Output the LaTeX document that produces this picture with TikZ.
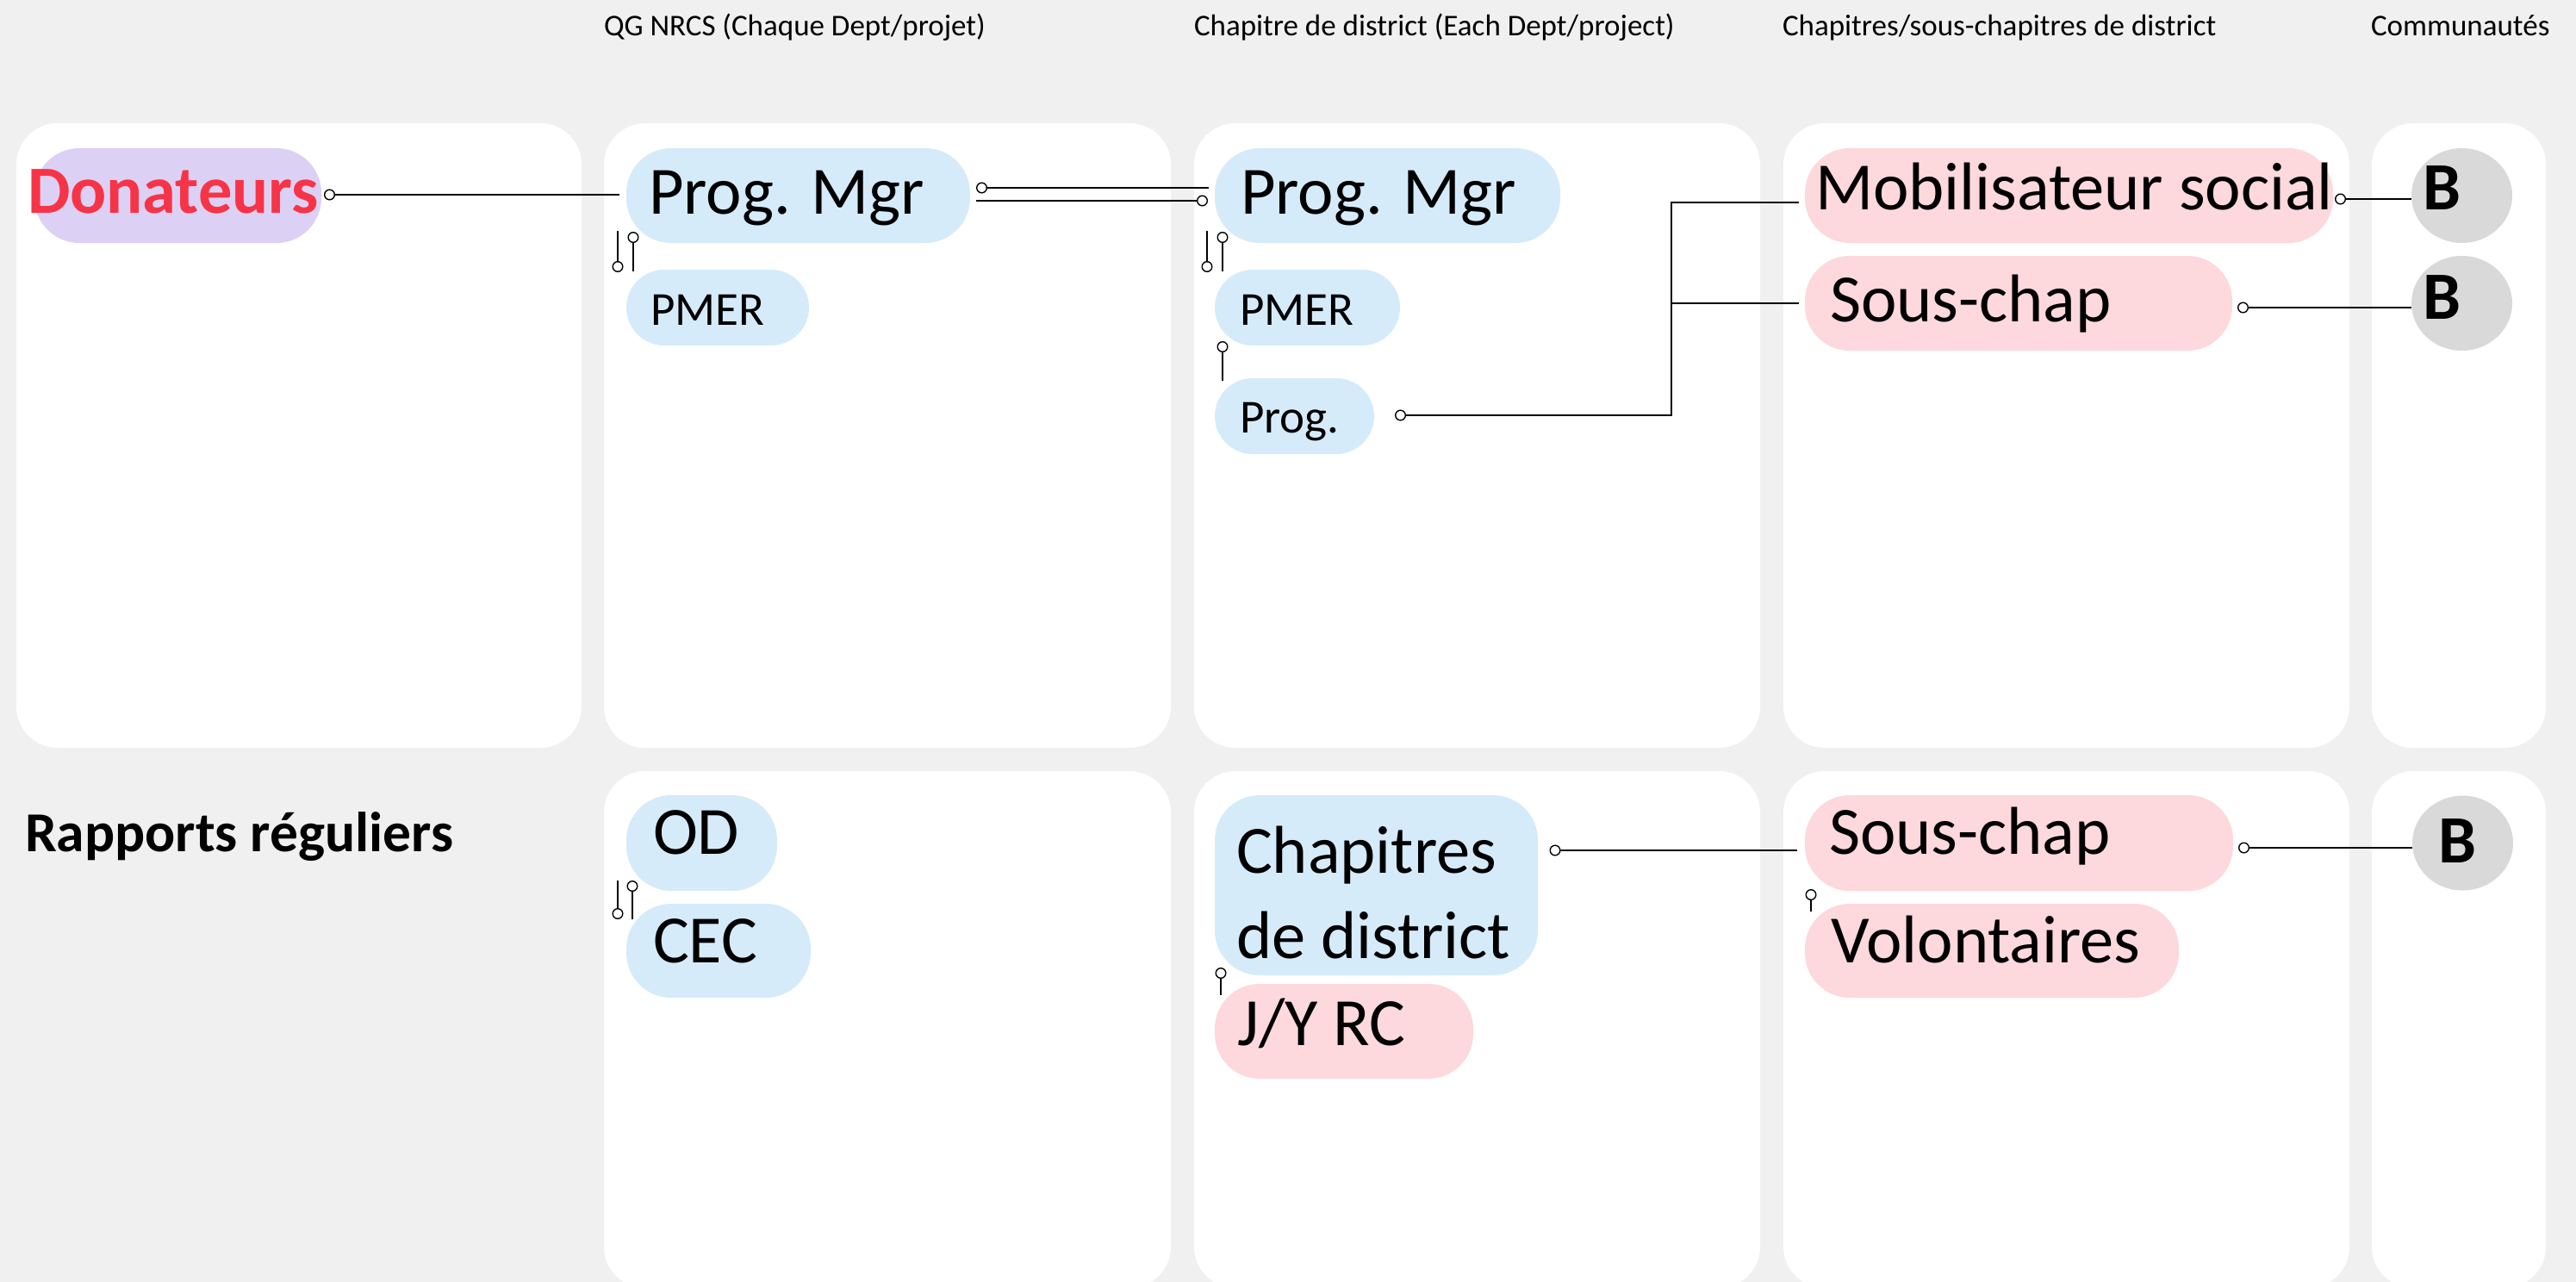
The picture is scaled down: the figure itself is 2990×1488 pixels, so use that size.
\documentclass[tikz,border=0pt]{standalone}
\usepackage{fontspec}
\setmainfont{Carlito}
\usetikzlibrary{shapes.geometric,arrows.meta}
\definecolor{bgc}{HTML}{F0F0F0}
\definecolor{pillblue}{HTML}{D5EBFA}
\definecolor{pillpink}{HTML}{FDD8DC}
\definecolor{pilllav}{HTML}{DDD0F5}
\definecolor{pillgray}{HTML}{D9D9D9}
\definecolor{donred}{HTML}{F73447}
\begin{document}
\begin{tikzpicture}[x=1pt,y=-1pt,
  panel/.style={fill=white, draw=none, rounded corners=48pt, inner sep=0pt, outer sep=0pt, anchor=north west},
  pill/.style={fill=#1, draw=none, rounded corners=52pt, inner sep=0pt, outer sep=0pt, anchor=north west},
  spill/.style={fill=#1, draw=none, rounded corners=44pt, inner sep=0pt, outer sep=0pt, anchor=north west},
  bnode/.style={ellipse, fill=pillgray, draw=none, inner sep=0pt, outer sep=0pt, minimum width=117pt, minimum height=110pt},
  txt/.style={inner sep=0pt, outer sep=0pt, anchor=base west},
  fbig/.style={font=\fontsize{78.5}{99}\selectfont},
  fbold/.style={font=\fontsize{78.5}{99}\selectfont\bfseries},
  fsmall/.style={font=\fontsize{55}{65}\selectfont},
  fhead/.style={font=\fontsize{35}{41}\selectfont},
  frap/.style={font=\fontsize{65.5}{77}\selectfont\bfseries},
  conn/.style={line width=2pt, draw=black},
  dotstart/.style={{Circle[open,length=13pt,width=13pt,line width=1.4pt,fill=white]}-},
  dotend/.style={-{Circle[open,length=13pt,width=13pt,line width=1.4pt,fill=white]}}
]
\useasboundingbox (0,0) rectangle (2990,1488);
\fill[bgc] (0,0) rectangle (2990,1488);
\clip (0,0) rectangle (2990,1488);

% headers
\node[txt, fhead] (h1) at (701,42) {QG NRCS (Chaque Dept/projet)};
\node[txt, fhead] (h2) at (1386,42) {Chapitre de district (Each Dept/project)};
\node[txt, fhead] (h3) at (2069,42) {Chapitres/sous-chapitres de district};
\node[txt, fhead] (h4) at (2752,42) {Communautés};

% panels row 1
\node[panel, minimum width=656pt, minimum height=725pt] (p11) at (19,143) {};
\node[panel, minimum width=658pt, minimum height=725pt] (p12) at (701,143) {};
\node[panel, minimum width=657pt, minimum height=725pt] (p13) at (1386,143) {};
\node[panel, minimum width=657pt, minimum height=725pt] (p14) at (2070,143) {};
\node[panel, minimum width=202pt, minimum height=725pt] (p15) at (2753,143) {};
% panels row 2
\node[panel, minimum width=658pt, minimum height=600pt] (p22) at (701,895) {};
\node[panel, minimum width=657pt, minimum height=600pt] (p23) at (1386,895) {};
\node[panel, minimum width=657pt, minimum height=600pt] (p24) at (2070,895) {};
\node[panel, minimum width=202pt, minimum height=600pt] (p25) at (2753,895) {};

% row 1 pills
\node[pill=pilllav, minimum width=333pt, minimum height=110pt] (don) at (40,172) {};
\node[pill=pillblue, minimum width=399pt, minimum height=110pt] (qgmgr) at (727,172) {};
\node[spill=pillblue, minimum width=212pt, minimum height=88pt] (qgpmer) at (727,313) {};
\node[pill=pillblue, minimum width=401pt, minimum height=110pt] (dmgr) at (1410,172) {};
\node[spill=pillblue, minimum width=215pt, minimum height=88pt] (dpmer) at (1410,313) {};
\node[spill=pillblue, minimum width=185pt, minimum height=88pt] (dprog) at (1410,439) {};
\node[pill=pillpink, minimum width=613pt, minimum height=110pt] (mob) at (2095,172) {};
\node[pill=pillpink, minimum width=496pt, minimum height=110pt] (sc1) at (2095,297) {};
\node[bnode] (b1) at (2857.5,227) {};
\node[bnode] (b2) at (2857.5,352) {};

% row 2 pills
\node[pill=pillblue, minimum width=175pt, minimum height=111pt] (od) at (727,923) {};
\node[pill=pillblue, minimum width=214pt, minimum height=109pt] (cec) at (727,1049) {};
\node[pill=pillblue, minimum width=375pt, minimum height=209pt] (chap) at (1410,923) {};
\node[pill=pillpink, minimum width=300pt, minimum height=110pt] (jyrc) at (1410,1142) {};
\node[pill=pillpink, minimum width=497pt, minimum height=111pt] (sc2) at (2095,923) {};
\node[pill=pillpink, minimum width=434pt, minimum height=109pt] (vol) at (2095,1049) {};
\node[bnode] (b3) at (2858.5,978.5) {};

% texts
\node[txt, fbold, text=donred] (don-t) at (32,247) {Donateurs};
\node[txt, fbig] (qgmgr-t) at (753,248) {Prog. Mgr};
\node[txt, fsmall] (qgpmer-t) at (755,377) {PMER};
\node[txt, fbig] (dmgr-t) at (1440,248) {Prog. Mgr};
\node[txt, fsmall] (dpmer-t) at (1439,377) {PMER};
\node[txt, fsmall] (dprog-t) at (1439,502) {Prog.};
\node[txt, fbig] (mob-t) at (2107,243) {Mobilisateur social};
\node[txt, fbig] (sc1-t) at (2124,373) {Sous-chap};
\node[txt, fbold] (b1-t) at (2812,243) {B};
\node[txt, fbold] (b2-t) at (2812,370) {B};
\node[txt, fbold] (b3-t) at (2830,1001) {B};
\node[txt, fbig] (od-t) at (758,991) {OD};
\node[txt, fbig] (cec-t) at (758,1117) {CEC};
\node[txt, fbig] (chap-t) at (1435,1013) {\vtop{\hbox{Chapitres}\hbox{de district}}};
\node[txt, fbig] (jyrc-t) at (1436,1213) {J/Y RC};
\node[txt, fbig] (sc2-t) at (2123,991) {Sous-chap};
\node[txt, fbig] (vol-t) at (2125,1117) {Volontaires};
\node[txt, frap] (rap-t) at (29,988) {Rapports réguliers};

% connectors row 1
\draw[conn, dotstart] ([xshift=3pt,yshift=1pt]don.east) -- ([xshift=-8pt,yshift=1pt]qgmgr.west);
\draw[conn, dotstart] ([xshift=7pt,yshift=9pt]qgmgr.east) -- ([xshift=-7pt,yshift=9pt]dmgr.west);
\draw[conn, dotend] ([xshift=7pt,yshift=-6pt]qgmgr.east) -- ([xshift=-8pt,yshift=-6pt]dmgr.west);

\draw[conn, dotend] ([xshift=-10pt,yshift=14pt]qgmgr.south west) -- ([xshift=-10pt,yshift=-3pt]qgpmer.north west);
\draw[conn, dotstart] ([xshift=8pt,yshift=13pt]qgmgr.south west) -- ([xshift=8pt,yshift=-2pt]qgpmer.north west);

\draw[conn, dotend] ([xshift=-9pt,yshift=14pt]dmgr.south west) -- ([xshift=-9pt,yshift=-3pt]dpmer.north west);
\draw[conn, dotstart] ([xshift=9pt,yshift=13pt]dmgr.south west) -- ([xshift=9pt,yshift=-2pt]dpmer.north west);

\draw[conn, dotstart] ([xshift=9pt,yshift=5pt]dpmer.south west) -- ([xshift=9pt,yshift=-3pt]dprog.north west);

\draw[conn, dotstart] ([xshift=24pt,yshift=1pt]dprog.east) -| ([xshift=-155pt,yshift=-8pt]mob.west) -- ([xshift=-7pt,yshift=-8pt]mob.west);
\draw[conn] ([xshift=-155pt]sc1.west) -- ([xshift=-7pt]sc1.west);

\draw[conn, dotstart] ([xshift=2pt,yshift=-4pt]mob.east) -- ([yshift=-4pt]b1.west);
\draw[conn, dotstart] ([xshift=6pt,yshift=-5pt]sc1.east) -- ([yshift=-5pt]b2.west);

% connectors row 2
\draw[conn, dotend] ([xshift=-10pt,yshift=12pt]od.south west) -- ([xshift=-10pt,yshift=-18pt]cec.north west);
\draw[conn, dotstart] ([xshift=7pt,yshift=12pt]od.south west) -- ([xshift=7pt,yshift=-18pt]cec.north west);

\draw[conn, dotstart] ([xshift=7pt,yshift=9pt]chap.south west) -- ([xshift=7pt,yshift=-13pt]jyrc.north west);
\draw[conn, dotstart] ([xshift=13.5pt,yshift=40.5pt]chap.east) -- ([xshift=-9pt,yshift=-8.5pt]sc2.west);
\draw[conn, dotstart] ([xshift=6pt,yshift=-5.5pt]sc2.east) -- ([yshift=-5.5pt]b3.west);
\draw[conn, dotstart] ([xshift=7pt,yshift=2pt]sc2.south west) -- ([xshift=7pt,yshift=-9pt]vol.north west);
\end{tikzpicture}
\end{document}
